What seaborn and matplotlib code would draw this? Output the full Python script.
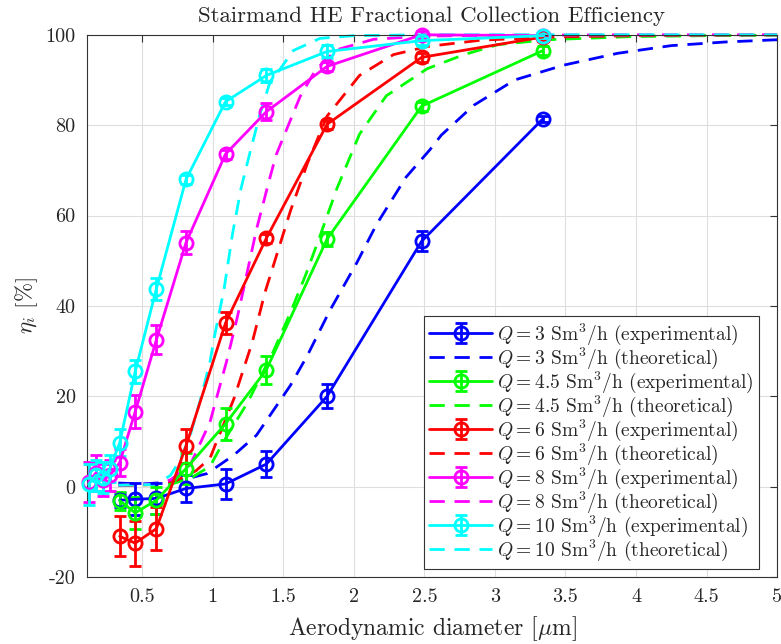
import numpy as np
import pandas as pd
import matplotlib
matplotlib.use("Agg")
import matplotlib.pyplot as plt
import seaborn as sns

# flow rates and colours
flows = ["3", "4.5", "6", "8", "10"]
colors = ["#0000ff", "#00ff00", "#ff0000", "#ff00ff", "#00ffff"]

# experimental particle sizes [um]
d_small = [0.12, 0.17, 0.22, 0.27]
d_exp = [0.34, 0.45, 0.60, 0.81, 1.09, 1.38, 1.81, 2.48, 3.34]

# experimental efficiencies [%] and error bars
eta_3 = [-3.0, -2.8, -2.6, -0.4, 0.6, 5.0, 20.0, 54.3, 81.4]
err_3 = [1.5, 3.5, 3.5, 3.0, 3.3, 2.9, 2.7, 2.2, 0.6]
eta_45 = [-3.1, -5.8, -3.0, 4.0, 13.9, 25.9, 54.8, 84.2, 96.5]
err_45 = [2.0, 3.5, 3.0, 3.5, 3.5, 3.1, 1.5, 1.0, 1.0]
eta_6 = [-11.0, -12.5, -9.3, 9.0, 36.2, 55.0, 80.2, 95.0, 99.5]
err_6 = [4.4, 5.0, 4.8, 3.7, 2.4, 1.0, 1.0, 1.0, 0.8]
eta_8 = [1.0, 3.0, 1.5, 2.5, 5.3, 16.6, 32.5, 54.0, 73.6, 83.0, 93.0, 100.0, 99.8]
err_8 = [4.5, 4.0, 3.5, 3.5, 3.0, 3.7, 3.2, 2.5, 1.0, 1.8, 1.0, 0.8, 0.5]
eta_10 = [0.5, 2.5, 2.0, 4.0, 9.7, 25.5, 43.8, 68.0, 85.2, 91.0, 96.3, 98.7, 99.8]
err_10 = [4.5, 3.5, 3.5, 3.0, 3.0, 2.5, 2.4, 1.0, 0.8, 1.5, 1.5, 1.0, 0.5]

# theoretical curves
d_th_3 = [0.33, 0.5, 0.7, 0.85, 0.96, 1.15, 1.31, 1.55, 1.67, 1.83, 2.02, 2.16, 2.37, 2.54,
          2.62, 2.85, 3.14, 3.49, 3.87, 4.25, 4.63, 5.0]
th_3 = [0.8, 0.6, 1.0, 2.0, 2.9, 7.0, 11.4, 22.4, 29.0, 39.0, 49.5, 58.0, 68.5, 74.6,
        77.8, 84.4, 90.0, 93.3, 95.9, 97.6, 98.4, 98.9]
d_th_45 = [0.33, 0.7, 0.85, 0.98, 1.075, 1.25, 1.43, 1.55, 1.66, 1.76, 1.88, 2.04, 2.23,
           2.52, 2.78, 3.02, 3.37, 3.97, 4.5, 5.0]
th_45 = [0.3, 0.5, 2.0, 4.5, 9.9, 18.8, 30.0, 38.5, 47.0, 55.5, 66.0, 78.0, 86.5,
         92.5, 95.6, 97.8, 98.9, 99.6, 99.8, 99.9]
d_th_6 = [0.33, 0.6, 0.75, 0.88, 0.98, 1.15, 1.28, 1.37, 1.48, 1.55, 1.67, 1.81, 2.04,
          2.28, 2.52, 2.9, 3.4, 4.0, 5.0]
th_6 = [0.2, 0.5, 1.5, 3.5, 6.3, 19.5, 32.0, 43.0, 54.0, 61.0, 71.5, 82.0, 91.0,
        95.6, 97.4, 98.8, 99.5, 99.8, 100.0]
d_th_8 = [0.33, 0.6, 0.7, 0.84, 0.98, 1.1, 1.17, 1.22, 1.31, 1.41, 1.45, 1.62, 1.73,
          1.88, 2.14, 2.5, 3.0, 4.0, 5.0]
th_8 = [0.3, 0.6, 1.5, 4.8, 14.3, 28.0, 37.0, 44.0, 57.0, 69.0, 73.5, 86.4, 92.3,
        96.7, 99.0, 99.7, 99.9, 100.0, 100.0]
d_th_10 = [0.33, 0.6, 0.7, 0.77, 0.84, 0.91, 0.98, 1.01, 1.08, 1.14, 1.2, 1.26, 1.33,
           1.40, 1.57, 1.76, 2.0, 2.5, 3.0, 4.0, 5.0]
th_10 = [0.3, 0.5, 2.5, 6.0, 11.4, 19.0, 27.6, 33.0, 43.8, 56.0, 66.0, 73.5, 82.0,
         89.0, 96.5, 99.2, 99.8, 100.0, 100.0, 100.0, 100.0]

exp_sets = [
    (d_exp, eta_3, err_3),
    (d_exp, eta_45, err_45),
    (d_exp, eta_6, err_6),
    (d_small + d_exp, eta_8, err_8),
    (d_small + d_exp, eta_10, err_10),
]
th_sets = [(d_th_3, th_3), (d_th_45, th_45), (d_th_6, th_6), (d_th_8, th_8), (d_th_10, th_10)]

sns.set_style("whitegrid")
plt.rcParams["font.family"] = "serif"
plt.rcParams["font.serif"] = ["cmr10"]
plt.rcParams["mathtext.fontset"] = "cm"
plt.rcParams["axes.unicode_minus"] = False
plt.rcParams["axes.formatter.use_mathtext"] = False

fig = plt.figure(figsize=(7.81, 6.44), dpi=100)
ax = fig.add_axes([0.111, 0.104, 0.884, 0.842])

handles = []
for q, c, (dx, y, e), (dt, yt) in zip(flows, colors, exp_sets, th_sets):
    h1 = ax.errorbar(dx, y, yerr=e, color=c, lw=2, marker="o", ms=9.5, mfc="none",
                     mew=2, capsize=4.5, capthick=2, elinewidth=2, clip_on=False, zorder=3,
                     label=rf"$Q = {q}$ Sm$^3$/h (experimental)")
    th_df = pd.DataFrame({"d": dt, "eta": yt})
    sns.lineplot(data=th_df, x="d", y="eta", ax=ax, color=c, lw=2, sort=False)
    ln = ax.lines[-1]
    ln.set_dashes([5.5, 3.5])
    ln.set_clip_on(False)
    ln.set_label(rf"$Q = {q}$ Sm$^3$/h (theoretical)")
    handles += [h1, ln]

ax.set_xlim(0.106, 5)
ax.set_ylim(-20, 100)
ax.set_xticks(np.arange(0.5, 5.01, 0.5))
ax.set_yticks(np.arange(-20, 101, 20))
ax.xaxis.set_major_formatter(matplotlib.ticker.FuncFormatter(lambda v, p: f"{v:g}"))
ax.grid(True, color="#dedede", lw=0.8)
for s in ax.spines.values():
    s.set_color("#333333")
    s.set_linewidth(0.8)
ax.tick_params(direction="in", top=True, right=True, length=5, width=0.8,
               color="#333333", labelsize=14.5, pad=8)

ax.set_title("Stairmand HE Fractional Collection Efficiency", fontsize=16.5, pad=9)
ax.set_xlabel(r"Aerodynamic diameter [$\mu$m]", fontsize=17, labelpad=6)
ax.set_ylabel(r"$\eta_i$ [%]", fontsize=16.5)

leg = ax.legend(handles=handles, loc="lower left", bbox_to_anchor=(0.488, 0.015),
                borderaxespad=0, fontsize=14, handlelength=3.2, labelspacing=-0.07,
                borderpad=0.3, handletextpad=0.25, frameon=True, fancybox=False,
                framealpha=1)
leg.get_frame().set_edgecolor("#333333")
leg.get_frame().set_linewidth(0.8)

fig.savefig("out.png", dpi=100)
